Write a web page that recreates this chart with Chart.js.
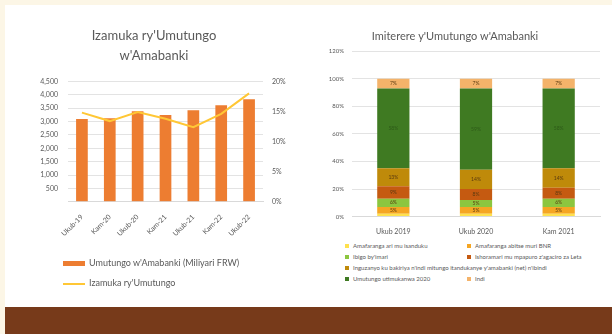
<!DOCTYPE html>
<html>
<head>
<meta charset="utf-8">
<script src="https://cdn.jsdelivr.net/npm/chart.js@4.4.1/dist/chart.umd.min.js"></script>
<style>
  html, body { margin: 0; padding: 0; }
  body { width: 612px; height: 334px; background: #fcf6e6; position: relative; overflow: hidden; font-family: Lato, "Open Sans", sans-serif; }
  #panel { position: absolute; left: 5px; top: 5px; width: 607px; height: 302px; background: #fff; }
  #band { position: absolute; left: 5px; top: 307px; width: 607px; height: 27px; background: #773a1a; }
  #leftBox { position: absolute; left: 5px; top: 22px; width: 298px; height: 232px; }
  #rightBox { position: absolute; left: 310px; top: 25px; width: 300px; height: 214px; }
  .lg { position: absolute; color: #595959; }
  .lg span.sw { display: inline-block; vertical-align: middle; margin-right: 4px; }
  #legLeft { left: 63px; top: 253px; font-size: 9px; line-height: 20px; white-space: nowrap; }
  #legRight { left: 345px; top: 240px; font-size: 6px; line-height: 11px; width: 262px; display: flex; flex-wrap: wrap; }
  #legRight .it { display: block; width: 122px; white-space: nowrap; }
  #legRight .wide { width: 262px; }
</style>
</head>
<body>
<div id="panel"></div>
<div id="leftBox"><canvas id="chartGrowth"></canvas></div>
<div id="rightBox"><canvas id="chartStructure"></canvas></div>
<div id="legLeft" class="lg"></div>
<div id="legRight" class="lg"></div>
<div id="band"></div>
<script>
const periods = ['Ukub-19', 'Kam-20', 'Ukub-20', 'Kam-21', 'Ukub-21', 'Kam-22', 'Ukub-22'];
const assets = [3090, 3120, 3380, 3240, 3420, 3610, 3830];
const growth = [14.8, 13.4, 14.9, 13.8, 12.4, 14.6, 18.0];
const leftTicks = [0, 500, 1000, 1500, 2000, 2500, 3000, 3500, 4000, 4500];

const years = ['Ukub 2019', 'Ukub 2020', 'Kam 2021'];
const structNames = [
    'Amafaranga ari mu isanduku',
    'Amafaranga abitse muri BNR',
    'Ibigo by\'imari',
    'Ishoramari mu mpapuro z\'agaciro za Leta',
    'Inguzanyo ku bakiriya n\'indi mitungo itandukanye y\'amabanki (net) n\'ibindi',
    'Umutungo utimukanwa 2020',
    'Indi',
];
const structColors = ['#ffe14d', '#f5a623', '#8cc63f', '#c55a11', '#bf8a0a', '#3f7a22', '#f4b36a'];
const structValues = [
    [2, 2, 2],
    [5, 5, 5],
    [6, 5, 6],
    [9, 8, 8],
    [13, 14, 14],
    [58, 59, 58],
    [7, 7, 7],
];

const grey = '#595959';
const gridCol = '#e3e3e3';

Chart.defaults.font.family = 'Lato, "Open Sans", sans-serif';
Chart.defaults.color = grey;

new Chart(document.getElementById('chartGrowth'), {
    type: 'bar',
    data: {
        labels: periods,
        datasets: [
            {
                type: 'line',
                label: 'Izamuka ry\'Umutungo',
                data: growth,
                yAxisID: 'y1',
                borderColor: '#ffc735',
                borderWidth: 2,
                pointRadius: 0,
                tension: 0,
                order: 0,
            },
            {
                label: 'Umutungo w\'Amabanki (Miliyari FRW)',
                data: assets,
                yAxisID: 'y',
                backgroundColor: '#ed7d31',
                barPercentage: 0.42,
                categoryPercentage: 1,
                order: 1,
            },
        ],
    },
    options: {
        responsive: true,
        maintainAspectRatio: false,
        animation: false,
        layout: { padding: { left: 0, right: 0, top: 0, bottom: 13 } },
        plugins: {
            legend: { display: false },
            tooltip: { enabled: false },
            title: {
                display: true,
                text: ['Izamuka ry\'Umutungo', 'w\'Amabanki'],
                color: grey,
                font: { size: 13, weight: 'normal', lineHeight: 1.55 },
                padding: { top: 4, bottom: 15 },
            },
        },
        scales: {
            x: {
                grid: { display: false },
                border: { color: '#d9d9d9' },
                ticks: { maxRotation: 45, minRotation: 45, font: { size: 7 }, color: grey },
            },
            y: {
                position: 'left',
                min: 0,
                max: 4500,
                afterBuildTicks: (s) => { s.ticks = leftTicks.map((v) => ({ value: v })); },
                afterFit: (s) => { s.width = 63; },
                grid: { color: gridCol, drawTicks: false },
                border: { display: false },
                ticks: {
                    padding: 10,
                    font: { size: 7 },
                    callback: (v) => (v === 0 ? '' : v.toLocaleString('en-US')),
                },
            },
            y1: {
                position: 'right',
                min: 0,
                max: 20,
                afterFit: (s) => { s.width = 40; },
                grid: { display: false, drawTicks: false },
                border: { display: false },
                ticks: { stepSize: 5, padding: 9, font: { size: 7 }, callback: (v) => v + '%' },
            },
        },
    },
});

const segLabels = {
    id: 'segLabels',
    afterDatasetsDraw(chart) {
        const ctx = chart.ctx;
        ctx.save();
        ctx.font = '5px Lato, sans-serif';
        ctx.textAlign = 'center';
        ctx.textBaseline = 'middle';
        chart.data.datasets.forEach((ds, i) => {
            chart.getDatasetMeta(i).data.forEach((bar, j) => {
                const h = Math.abs(bar.base - bar.y);
                if (h < 6) return;
                ctx.fillStyle = i === 5 ? '#2d5a18' : '#5a3a10';
                ctx.fillText(ds.data[j] + '%', bar.x, (bar.y + bar.base) / 2);
            });
        });
        ctx.restore();
    },
};

new Chart(document.getElementById('chartStructure'), {
    type: 'bar',
    data: {
        labels: years,
        datasets: structNames.map((name, i) => ({
            label: name,
            data: structValues[i],
            backgroundColor: structColors[i],
            barPercentage: 0.39,
            categoryPercentage: 1,
        })),
    },
    options: {
        responsive: true,
        maintainAspectRatio: false,
        animation: false,
        layout: { padding: { left: 0, right: 10, top: 0, bottom: 0 } },
        plugins: {
            legend: { display: false },
            tooltip: { enabled: false },
            title: {
                display: true,
                text: 'Imiterere y\'Umutungo w\'Amabanki',
                color: grey,
                font: { size: 11, weight: 'normal' },
                padding: { top: 5, bottom: 8 },
            },
        },
        scales: {
            x: {
                stacked: true,
                grid: { display: false },
                border: { color: '#d9d9d9' },
                ticks: { font: { size: 7 }, color: grey },
            },
            y: {
                stacked: true,
                min: 0,
                max: 120,
                afterFit: (s) => { s.width = 42; },
                grid: { color: gridCol, drawTicks: false },
                border: { display: false },
                ticks: { stepSize: 20, padding: 8, font: { size: 6 }, callback: (v) => v + '%' },
            },
        },
    },
    plugins: [segLabels],
});

// legends
const legLeft = document.getElementById('legLeft');
legLeft.innerHTML =
    '<div><span class="sw" style="width:22px;height:5px;background:#ed7d31"></span>Umutungo w\'Amabanki (Miliyari FRW)</div>' +
    '<div><span class="sw" style="width:22px;height:2px;background:#ffc735"></span>Izamuka ry\'Umutungo</div>';

const legRight = document.getElementById('legRight');
legRight.innerHTML = structNames.map((name, i) => {
    const cls = i === 4 ? 'it wide' : 'it';
    return '<span class="' + cls + '"><span class="sw" style="width:4px;height:4px;background:' +
        structColors[i] + '"></span>' + name + '</span>';
}).join('');
</script>
</body>
</html>
